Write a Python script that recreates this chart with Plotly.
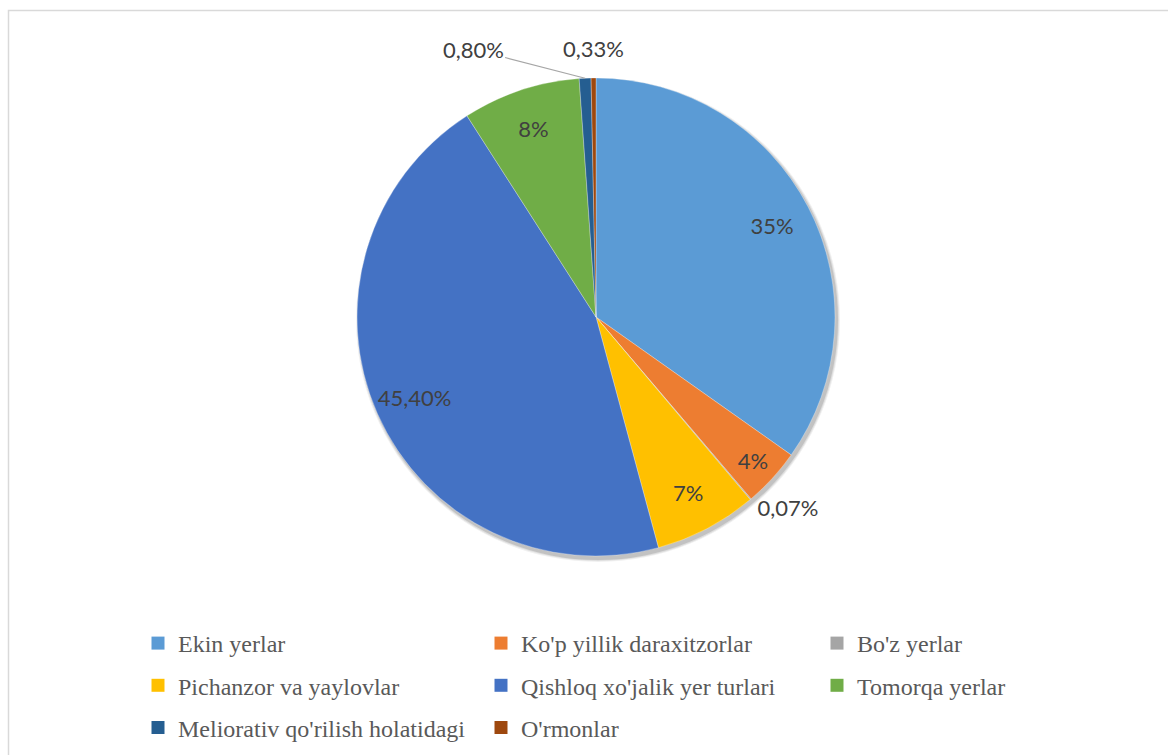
import math
import plotly.graph_objects as go

# Land categories (share of total area, %)
categories = [
    "Ekin yerlar",
    "Ko'p yillik daraxitzorlar",
    "Bo'z yerlar",
    "Pichanzor va yaylovlar",
    "Qishloq xo'jalik yer turlari",
    "Tomorqa yerlar",
    "Meliorativ qo'rilish holatidagi",
    "O'rmonlar",
]
shares = [35, 4, 0.07, 7, 45.40, 8, 0.80, 0.33]
colors = ["#5B9BD5", "#ED7D31", "#A5A5A5", "#FFC000",
          "#4472C4", "#70AD47", "#255E91", "#9E480E"]
# where each percentage label goes: in the ring, outside by plotly, or as a callout
label_mode = ["inside", "inside", "outside", "inside",
              "inside", "inside", "callout", "callout"]


def pct_label(v):
    # whole numbers without decimals, others with two decimals and a comma
    if float(v).is_integer():
        return f"{int(v)}%"
    return f"{v:.2f}".replace(".", ",") + "%"


labels_txt = [pct_label(v) for v in shares]

W, H = 1168, 755
cx, cy, r = 596, 317, 239
dom_x = [(cx - r) / W, (cx + r) / W]
dom_y = [1 - (cy + r) / H, 1 - (cy - r) / H]
lab_font = dict(family="Lato", size=22, color="#404040")

fig = go.Figure()

# soft drop shadow under the pie
for off, alpha in [(6, 0.06), (4, 0.08), (2, 0.12)]:
    fig.add_trace(go.Pie(
        values=[1], labels=["shadow"], sort=False, showlegend=False,
        marker=dict(colors=[f"rgba(0,0,0,{alpha})"], line=dict(width=0)),
        textinfo="none", hoverinfo="skip",
        domain=dict(x=[(cx - r - off / 2 + 2) / W, (cx + r + off / 2 + 2) / W],
                    y=[1 - (cy + r + off / 2 + 3) / H, 1 - (cy - r - off / 2 + 3) / H]),
    ))

# the pie itself
fig.add_trace(go.Pie(
    labels=categories, values=shares, sort=False,
    direction="clockwise", rotation=0,
    marker=dict(colors=colors, line=dict(width=0.6, color="rgba(255,255,255,0.5)")),
    textinfo="none", showlegend=False,
    domain=dict(x=dom_x, y=dom_y),
))

# transparent ring on top that carries the percentage labels near the rim
fig.add_trace(go.Pie(
    labels=categories, values=shares, sort=False,
    direction="clockwise", rotation=0, hole=0.66,
    marker=dict(colors=["rgba(0,0,0,0)"] * len(shares), line=dict(width=0)),
    text=labels_txt, textinfo="text",
    textposition=[m if m != "callout" else "none" for m in label_mode],
    insidetextorientation="horizontal",
    textfont=lab_font, insidetextfont=lab_font, outsidetextfont=lab_font,
    showlegend=False, hoverinfo="skip",
    domain=dict(x=dom_x, y=dom_y),
))

# callouts for the two thin slices at the top
total = sum(shares)
annotations = []
offsets = {6: dict(ax=-112, ay=-29), 7: dict(ax=0, ay=-30)}
cum = 0.0
for i, v in enumerate(shares):
    mid = (cum + v / 2) / total * 2 * math.pi
    cum += v
    if label_mode[i] != "callout":
        continue
    tip_x = (cx + r * math.sin(mid)) / W
    tip_y = 1 - (cy - r * math.cos(mid)) / H
    o = offsets[i]
    annotations.append(dict(
        x=tip_x, y=tip_y, xref="paper", yref="paper",
        text=labels_txt[i], font=lab_font,
        showarrow=True, ax=o["ax"], ay=o["ay"],
        arrowhead=0, arrowwidth=1.2,
        arrowcolor="#A6A6A6" if i == 6 else "rgba(0,0,0,0)",
    ))

# legend: three columns, filled row by row
legend_names = ["legend", "legend2", "legend3"]
for i, (name, col) in enumerate(zip(categories, colors)):
    fig.add_trace(go.Scatter(
        x=[None], y=[None], mode="markers", name=name,
        marker=dict(symbol="square", size=13, color=col),
        legend=legend_names[i % 3], legendgroup=name, showlegend=True,
    ))

legend_font = dict(family="Liberation Serif, Times New Roman, serif", size=24, color="#595959")
legend_style = dict(
    orientation="v", xanchor="left", yanchor="top", y=1 - 621 / H,
    font=legend_font, bgcolor="rgba(0,0,0,0)", tracegroupgap=8, itemsizing="trace",
)
fig.update_layout(
    width=W, height=H,
    margin=dict(l=0, r=0, t=0, b=0),
    font=dict(family="Liberation Serif, serif"),
    paper_bgcolor="white", plot_bgcolor="white",
    xaxis=dict(visible=False), yaxis=dict(visible=False),
    legend=dict(x=(152 - 14) / W, **legend_style),
    legend2=dict(x=(495 - 14) / W, **legend_style),
    legend3=dict(x=(831 - 14) / W, **legend_style),
    annotations=annotations,
    shapes=[dict(type="rect", xref="paper", yref="paper",
                 x0=8.5 / W, x1=1.02, y0=-0.02, y1=1 - 10.5 / H,
                 line=dict(color="#D9D9D9", width=1.5), layer="below")],
)

fig.write_html("out.html")
